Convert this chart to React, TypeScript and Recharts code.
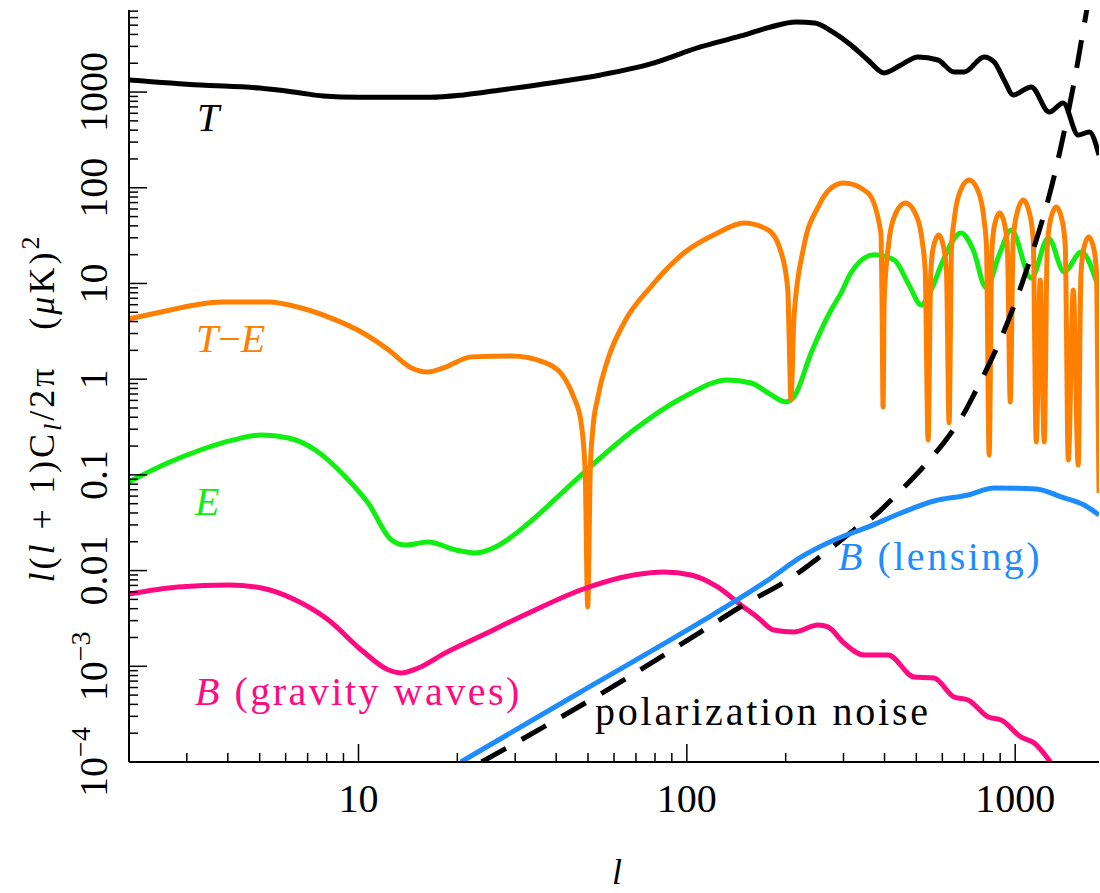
import React from 'react';
import { LineChart, Line, XAxis, YAxis } from 'recharts';

// multipole l and l(l+1)C_l/2pi in (uK)^2
const tempCurve: [number, number][] = [
  [2, 1340], [3.3, 1186], [5, 1100], [6.66, 978], [7.8, 910], [10, 880], [16.6, 880], [20.9, 933],
  [27.1, 1052], [38.5, 1245], [54.7, 1510], [77.6, 1967], [110, 2958], [146, 3855], [180, 4786],
  [215, 5395], [245, 5270], [281, 4146], [316, 3107], [356, 2163], [399, 1583], [449, 1921], [506, 2327],
  [582, 2163], [651, 1622], [700, 1622], [804, 2327], [863, 2062], [925, 1340], [986, 933],
  [1119, 1131], [1270, 619], [1400, 769], [1556, 356], [1682, 383], [1800, 220],
];

const teCurve: [number, number][] = [
  [2, 4.26], [2.51, 5.04], [3.18, 5.96], [3.82, 6.41], [5.32, 6.41], [6.7, 5.54], [8.51, 4.16],
  [10.2, 3.11], [12.35, 2.02], [14.5, 1.31], [16.3, 1.19], [18.4, 1.34], [22.1, 1.71], [29.3, 1.75],
  [36.6, 1.51], [41.3, 1.16], [45.2, 0.652], [47.5, 0.375], [49.0, 0.112], [49.9, 0.0042],
  [50.8, 0.112], [51.7, 0.294], [53.6, 0.652], [57.4, 1.59], [64.3, 3.86], [77.6, 9.19], [97.9, 20.8],
  [124, 33.7], [149, 42.9], [177, 36.2], [194, 20.8], [203, 8.55], [205, 2.57], [207.5, 0.607],
  [212, 4.5], [227, 24.0], [251, 63.0], [275, 99.5], [301, 112], [356, 88.3],
  [390, 33.7], [393, 6.73], [396, 0.512], [399, 6.73], [412, 26.5], [428, 49.5], [463, 69.3],
  [502, 49.5], [522, 26.5], [532, 13.5], [543, 0.232], [553, 12.3], [562, 22.9], [585, 32.1],
  [607, 22.9], [618, 12.3], [629, 0.349], [640, 23.5], [652, 46.1], [675, 86.1], [724, 120.6],
  [777, 86.1], [804, 46.1], [818, 23.5], [833, 0.161], [849, 20.8], [863, 38.9], [897, 54.6],
  [932, 38.9], [948, 20.8], [966, 0.578], [986, 28.5], [1011, 53.2], [1058, 74.6], [1107, 53.2],
  [1135, 28.5], [1159, 0.221], [1192, 10.9], [1226, 0.221], [1252, 24.1], [1279, 45.0], [1334, 63.0],
  [1391, 45.0], [1421, 24.1], [1451, 0.143], [1503, 8.55], [1556, 0.127], [1585, 11.7], [1612, 21.9],
  [1675, 30.6], [1741, 21.9], [1771, 11.7], [1800, 0.0647],
];

const eCurve: [number, number][] = [
  [2, 0.0844], [2.62, 0.133], [3.3, 0.182], [4.16, 0.232], [5.06, 0.261], [6.12, 0.243], [7.39, 0.182],
  [9.13, 0.0951], [10.7, 0.0508], [12.6, 0.0209], [13.9, 0.0185], [16.3, 0.0199], [19.8, 0.0164],
  [22.7, 0.0153], [26.5, 0.0181], [33.0, 0.0314], [41.6, 0.0647], [48.5, 0.105], [68.9, 0.294],
  [97.9, 0.652], [133, 0.982], [157, 0.913], [177, 0.718], [200, 0.578], [212, 0.652], [239, 1.88],
  [275, 5.28], [295, 7.96], [316, 12.9], [372, 19.9], [428, 17.6], [475, 9.64], [517, 5.96],
  [555, 8.55], [595, 15.6], [684, 33.7], [745, 22.4], [816, 8.98], [894, 19.9], [973, 36.2],
  [1119, 11.4], [1262, 29.9], [1410, 13.2], [1589, 21.3], [1790, 9.19],
];

const bGravCurve: [number, number][] = [
  [2, 0.00569], [2.82, 0.00675], [4.02, 0.00708], [5.06, 0.00658], [6.43, 0.00493], [8.1, 0.00305],
  [10.2, 0.00148], [12.35, 0.000914], [13.5, 0.000851], [15.2, 0.00096], [18.4, 0.00138],
  [23.2, 0.00202], [33.0, 0.00361], [47.5, 0.00627], [68.9, 0.00899], [85.1, 0.00967], [103, 0.00899],
  [124, 0.00675], [146, 0.00438], [165, 0.0032], [184, 0.00239], [212, 0.00228], [251, 0.0027],
  [269, 0.00258], [301, 0.00175], [347, 0.00131], [410, 0.00131], [492, 0.000773], [566, 0.000755],
  [651, 0.000478], [719, 0.000444], [828, 0.000295], [906, 0.000275], [1043, 0.000182],
  [1143, 0.000158], [1280, 0.0001],
];

const bLensCurve: [number, number][] = [
  [20.5, 0.0001], [46.9, 0.000526], [113, 0.00305], [139, 0.0047], [177, 0.00798], [223, 0.0139],
  [281, 0.0209], [357, 0.0286], [449, 0.04], [566, 0.0533], [719, 0.0617], [863, 0.073],
  [1159, 0.0713], [1380, 0.0588], [1622, 0.0484], [1800, 0.0381],
];

const noiseCurve: [number, number][] = [
  [23.7, 0.0001], [64.3, 0.00072], [110, 0.00228], [149, 0.00438], [207.5, 0.00838], [275, 0.0172],
  [323, 0.0266], [372, 0.0372], [428, 0.0588], [482, 0.0885], [555, 0.15], [625, 0.249], [699, 0.443],
  [750, 0.7], [845, 1.59], [906, 2.69], [986, 5.55], [1043, 9.42], [1119, 19.4], [1175, 32.9],
  [1262, 76.4], [1315, 133], [1380, 274], [1451, 619], [1514, 1306], [1589, 3343], [1670, 8950],
];

const xMajor = [10, 100, 1000];
const xMinor = [3, 4, 5, 6, 7, 8, 9, 20, 30, 40, 50, 60, 70, 80, 90, 200, 300, 400, 500, 600, 700, 800, 900];
const yMajor = [0.0001, 0.001, 0.01, 0.1, 1, 10, 100, 1000];
const yMajorLabels = [['10', '\u22124'], ['10', '\u22123'], ['0.01'], ['0.1'], ['1'], ['10'], ['100'], ['1000']];
const minorSteps = [2, 3, 4, 5, 6, 7, 8, 9];

const X_DOMAIN: [number, number] = [2, 1800];
const Y_DOMAIN: [number, number] = [0.0001, 7200];

const xTicks = [...xMinor, ...xMajor].sort((a, b) => a - b);
const yTicks = yMajor.flatMap(m => [m, ...minorSteps.map(k => m * k)]).filter(v => v < Y_DOMAIN[1]);

const SERIF = '"Liberation Serif", "DejaVu Serif", serif';
const serif = { fontFamily: SERIF };
const ORANGE = '#FF8000';
const GREEN = '#11EE11';
const PINK = '#FF0A80';
const BLUE = '#1E8CFF';

const rows = (pts: [number, number][]) => pts.map(([l, v]) => ({ l, v }));
const yMajorIndex = (v: number) => yMajor.findIndex(m => Math.abs(v / m - 1) < 1e-6);

const BottomTick = (p: any) => {
  const { x, y, payload } = p;
  const major = xMajor.includes(payload.value);
  return (
    <g>
      <line x1={x} y1={y} x2={x} y2={y - (major ? 18 : 9)} stroke="#000" strokeWidth={1.5} />
      {major && (
        <text x={x} y={y + 50} textAnchor="middle" fontSize={40} style={serif} fill="#000">
          {String(payload.value)}
        </text>
      )}
    </g>
  );
};

const TopTick = (p: any) => {
  const { x, y, payload } = p;
  const major = xMajor.includes(payload.value);
  return <line x1={x} y1={y} x2={x} y2={y + (major ? 18 : 9)} stroke="#000" strokeWidth={1.5} />;
};

const LeftTick = (p: any) => {
  const { x, y, payload } = p;
  const i = yMajorIndex(payload.value);
  const bx = x - 22;
  const label = i >= 0 ? yMajorLabels[i] : null;
  return (
    <g>
      <line x1={x} y1={y} x2={x + (i >= 0 ? 18 : 9)} y2={y} stroke="#000" strokeWidth={1.5} />
      {label && (
        <text x={bx} y={y} transform={`rotate(-90 ${bx} ${y})`} textAnchor="middle" fontSize={40}
          style={serif} fill="#000">
          {label[0]}
          {label[1] && <tspan fontSize={28} dy={-17}>{label[1]}</tspan>}
        </text>
      )}
    </g>
  );
};

const RightTick = (p: any) => {
  const { x, y, payload } = p;
  const major = yMajorIndex(payload.value) >= 0;
  return <line x1={x} y1={y} x2={x - (major ? 18 : 9)} y2={y} stroke="#000" strokeWidth={1.5} />;
};

const frame = { stroke: '#000', strokeWidth: 2 };

const Labels = () => (
  <svg width={1100} height={893} style={{ position: 'absolute', left: 0, top: 0, pointerEvents: 'none', ...serif }}>
    <text x={197} y={131} fontSize={40} fontStyle="italic" fill="#000" style={serif}>T</text>
    <text x={196} y={352} fontSize={40} fill={ORANGE} style={serif}>
      <tspan fontStyle="italic">T</tspan>
      <tspan>{'\u2212'}</tspan>
      <tspan fontStyle="italic">E</tspan>
    </text>
    <text x={195} y={515} fontSize={40} fontStyle="italic" fill={GREEN} style={serif}>E</text>
    <text x={195} y={705} fontSize={40} fill={PINK} letterSpacing={2.5} style={{ whiteSpace: 'pre', ...serif }}>
      <tspan fontStyle="italic">B</tspan>
      <tspan> (gravity waves)</tspan>
    </text>
    <text x={838} y={570} fontSize={40} fill={BLUE} letterSpacing={2.5} style={{ whiteSpace: 'pre', ...serif }}>
      <tspan fontStyle="italic">B</tspan>
      <tspan> (lensing)</tspan>
    </text>
    <text x={595} y={725} fontSize={40} fill="#000" letterSpacing={2.8} style={{ whiteSpace: 'pre', ...serif }}>
      polarization noise
    </text>
    <text x={617} y={884} fontSize={36} fontStyle="italic" textAnchor="middle" fill="#000" style={serif}>l</text>
    <text x={54} y={408} transform="rotate(-90 54 408)" textAnchor="middle" fontSize={36} fill="#000"
      letterSpacing={3} style={{ whiteSpace: 'pre', ...serif }}>
      <tspan fontStyle="italic">l</tspan>
      <tspan>(</tspan>
      <tspan fontStyle="italic">l</tspan>
      <tspan> + 1)C</tspan>
      <tspan fontStyle="italic" fontSize={26} dy={7}>l</tspan>
      <tspan dy={-7}>/2π   (</tspan>
      <tspan fontStyle="italic">μ</tspan>
      <tspan>K)</tspan>
      <tspan fontSize={26} dy={-15}>2</tspan>
    </text>
  </svg>
);

const lineProps = {
  dataKey: 'v',
  type: 'monotone' as const,
  strokeWidth: 5,
  dot: false,
  activeDot: false,
  isAnimationActive: false,
  strokeLinejoin: 'round' as const,
};

export default function App() {
  return (
    <div style={{ position: 'absolute', left: 0, top: 0, width: 1100, height: 893, background: '#fff' }}>
      <LineChart width={1100} height={893} margin={{ top: 10, right: 1, bottom: 0, left: 0 }}>
        <XAxis dataKey="l" type="number" scale="log" domain={X_DOMAIN} allowDataOverflow ticks={xTicks}
          interval={0} tick={BottomTick} tickLine={false} tickSize={0} tickMargin={0} height={131}
          axisLine={frame} />
        <XAxis xAxisId="top" orientation="top" dataKey="l" type="number" scale="log" domain={X_DOMAIN}
          allowDataOverflow ticks={xTicks} interval={0} tick={TopTick} tickLine={false} tickSize={0}
          tickMargin={0} height={0} axisLine={frame} />
        <YAxis type="number" scale="log" domain={Y_DOMAIN} allowDataOverflow ticks={yTicks} interval={0}
          tick={LeftTick} tickLine={false} tickSize={0} tickMargin={0} width={129} axisLine={frame} />
        <YAxis yAxisId="right" orientation="right" type="number" scale="log" domain={Y_DOMAIN}
          allowDataOverflow ticks={yTicks} interval={0} tick={RightTick} tickLine={false} tickSize={0}
          tickMargin={0} width={0} axisLine={frame} />
        <Line {...lineProps} data={rows(tempCurve)} stroke="#000" />
        <Line {...lineProps} data={rows(eCurve)} stroke={GREEN} />
        <Line {...lineProps} data={rows(teCurve)} stroke={ORANGE} />
        <Line {...lineProps} data={rows(bGravCurve)} stroke={PINK} />
        <Line {...lineProps} data={rows(noiseCurve)} stroke="#000" strokeDasharray="28 18" />
        <Line {...lineProps} data={rows(bLensCurve)} stroke={BLUE} />
      </LineChart>
      <Labels />
    </div>
  );
}
